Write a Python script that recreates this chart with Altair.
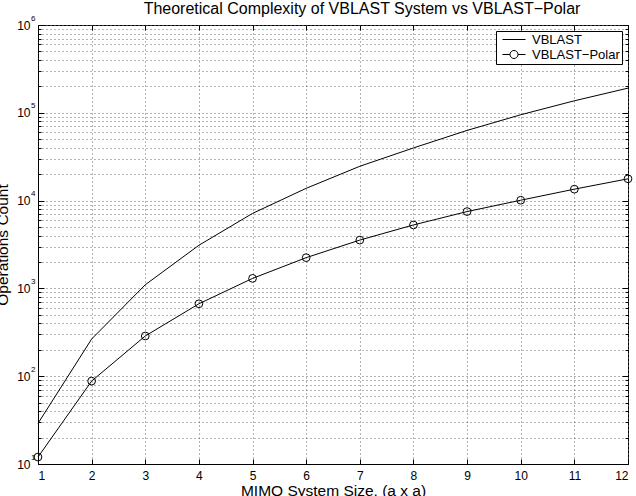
import altair as alt
import pandas as pd

# ---- data ----
sizes = list(range(1, 13))
vblast = [29, 265, 1100, 3100, 7150, 13800, 24600, 39800, 63000, 95000, 137000, 191000]
polar = [12, 88, 287, 668, 1300, 2240, 3550, 5280, 7500, 10100, 13500, 17700]
series_names = ["VBLAST", "VBLAST\u2212Polar"]
title_text = "Theoretical Complexity of VBLAST System vs VBLAST\u2212Polar"
x_title = "MIMO System Size, (a x a)"
y_title = "Operations Count"
major_ticks = [10, 100, 1000, 10000, 100000, 1000000]
minor_ticks = [m * 10 ** k for k in range(1, 6) for m in range(2, 10)]

df = pd.DataFrame({
    "size": sizes * 2,
    "ops": vblast + polar,
    "series": [series_names[0]] * len(sizes) + [series_names[1]] * len(sizes),
})

FONT = "Liberation Sans"
W, H = 590, 439
xscale = alt.Scale(domain=[1, 12], nice=False, zero=False)
yscale = alt.Scale(type="log", domain=[10, 1000000], nice=False)
grid_kw = dict(grid=True, gridColor="#666666", gridDash=[1, 3], gridWidth=1)
nolab = dict(labels=False, title=None, domain=False)

base = alt.Chart(df)

lines = base.mark_line(color="black", strokeWidth=1).encode(
    x=alt.X("size:Q", scale=xscale, axis=alt.Axis(
        orient="bottom", values=sizes, format="d",
        labelFont=FONT, labelFontSize=12, labelColor="black", labelPadding=11,
        tickSize={"expr": "-5"}, tickColor="black",
        domain=True, domainColor="black", domainWidth=1,
        title=x_title, titleFont=FONT, titleFontSize=15.5, titleFontWeight="normal",
        titleColor="black", titleBaseline="alphabetic", titleY=31, **grid_kw)),
    y=alt.Y("ops:Q", scale=yscale, axis=alt.Axis(
        orient="left", values=major_ticks, labelExpr="'10'",
        labelFont=FONT, labelFontSize=12, labelColor="black", labelPadding=14,
        tickSize={"expr": "-6"}, tickColor="black",
        domain=True, domainColor="black", domainWidth=1,
        title=y_title, titleFont=FONT, titleFontSize=15.5, titleFontWeight="normal",
        titleColor="black", titleAngle=270, titleX=-31, titleY=H / 2,
        titleAlign="center", titleBaseline="alphabetic", **grid_kw)),
    detail="series:N",
)

points = base.transform_filter(
    alt.datum.series == series_names[1]
).mark_point(shape="circle", filled=False, color="black", size=60, strokeWidth=1, opacity=1).encode(
    x=alt.X("size:Q", scale=xscale, axis=alt.Axis(
        orient="top", values=sizes, tickSize={"expr": "-5"}, tickColor="black",
        grid=False, **nolab)),
    y=alt.Y("ops:Q", scale=yscale, axis=alt.Axis(
        orient="left", values=minor_ticks, tickSize={"expr": "-3"}, tickColor="black",
        **nolab, **grid_kw)),
)

path_line = "M-1.92,0H1.92"
path_circ = "M-1.92,0H-0.67M0.67,0H1.92M0.67,0A0.67,0.67 0 1,1 -0.67,0A0.67,0.67 0 1,1 0.67,0Z"

legend_layer = base.mark_point(filled=False, color="black", size=144, strokeWidth=1).encode(
    x=alt.X("size:Q", scale=xscale, axis=None),
    y=alt.Y("ops:Q", scale=yscale, axis=alt.Axis(
        orient="left", values=major_ticks,
        labelExpr="'' + round(log(datum.value) / LN10)",
        labelFont=FONT, labelFontSize=8, labelColor="black", labelPadding=3, labelOffset=-7,
        ticks=False, grid=False, domain=False, title=None)),
    shape=alt.Shape("series:N",
                    scale=alt.Scale(domain=series_names, range=[path_line, path_circ]),
                    legend=alt.Legend(
                        title=None, orient="top-right", offset=6,
                        fillColor="white", strokeColor="black", padding=2,
                        symbolSize=144, symbolStrokeWidth=1, symbolStrokeColor="black",
                        symbolFillColor="transparent", symbolOpacity=1, symbolOffset=9.5,
                        labelOffset=11.5, labelFont=FONT, labelFontSize=13, labelColor="black",
                        rowPadding=1, labelExpr="datum.label + '\u00a0\u00a0\u00a0'")),
    opacity=alt.condition("false", alt.value(1), alt.value(0)),
)

right_major = base.mark_point(opacity=0).encode(
    x=alt.X("size:Q", scale=xscale, axis=None),
    y=alt.Y("ops:Q", scale=yscale, axis=alt.Axis(
        orient="right", values=major_ticks, tickSize={"expr": "-6"}, tickColor="black",
        grid=False, **nolab)),
)

right_minor = base.mark_point(opacity=0).encode(
    x=alt.X("size:Q", scale=xscale, axis=None),
    y=alt.Y("ops:Q", scale=yscale, axis=alt.Axis(
        orient="right", values=minor_ticks, tickSize={"expr": "-3"}, tickColor="black",
        grid=False, **nolab)),
)

chart = alt.layer(lines, points, legend_layer, right_major, right_minor).resolve_axis(
    x="independent", y="independent"
).properties(
    width=W, height=H,
    autosize=alt.AutoSizeParams(type="none"),
    padding={"left": 38, "top": 25, "right": 8, "bottom": 32},
    background="white",
    title=alt.Title(title_text, font=FONT, fontSize=16, fontWeight="normal",
                    color="black", anchor="middle", frame="group", baseline="bottom",
                    dx=29, dy=13, offset=-6),
).configure_view(stroke="black", strokeWidth=1)

chart.save("out.html", embed_options={"renderer": "svg", "actions": False})
